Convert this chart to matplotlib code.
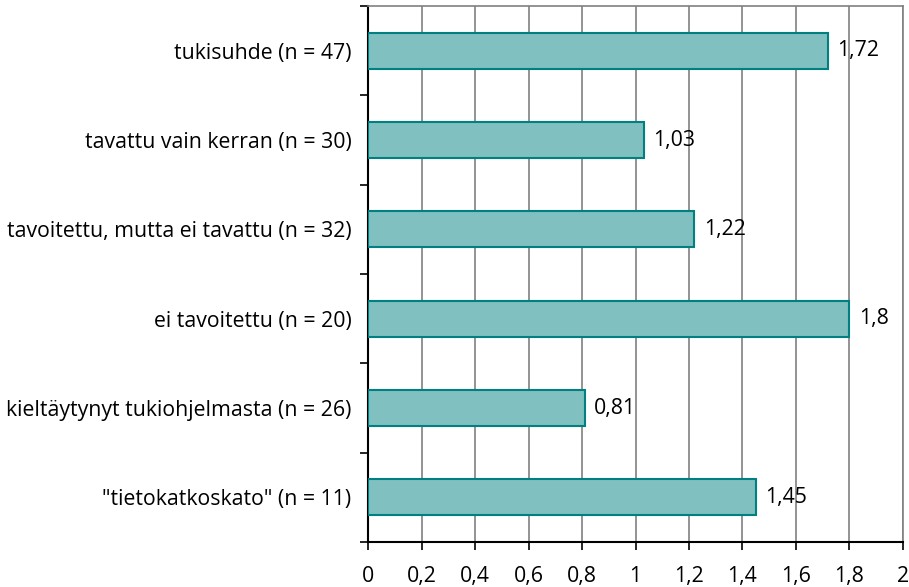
import matplotlib
matplotlib.use("Agg")
import matplotlib.pyplot as plt
from matplotlib.ticker import FixedLocator

plt.rcParams['font.family'] = ['Open Sans', 'DejaVu Sans']

categories = [
    "tukisuhde (n = 47)",
    "tavattu vain kerran (n = 30)",
    "tavoitettu, mutta ei tavattu (n = 32)",
    "ei tavoitettu (n = 20)",
    "kieltäytynyt tukiohjelmasta (n = 26)",
    "\"tietokatkoskato\" (n = 11)",
]
values = [1.72, 1.03, 1.22, 1.80, 0.81, 1.45]
value_labels = ["1,72", "1,03", "1,22", "1,8", "0,81", "1,45"]
x_ticks = [0, 0.2, 0.4, 0.6, 0.8, 1.0, 1.2, 1.4, 1.6, 1.8, 2.0]
x_tick_labels = ["0", "0,2", "0,4", "0,6", "0,8", "1", "1,2", "1,4", "1,6", "1,8", "2"]

FS = 15.3

fig = plt.figure(figsize=(9.09, 5.87), dpi=100)
ax = fig.add_axes([368 / 909, 1 - 542 / 587, 535 / 909, 536 / 587])

pos = list(range(len(categories)))
ax.barh(pos, values, height=0.4, color="#80c0c0", edgecolor="#008080", linewidth=1.5, zorder=3)

for p, v, lab in zip(pos, values, value_labels):
    ax.text(v + 0.035, p, lab, va="center", ha="left", fontsize=FS, color="black", zorder=4)

ax.set_xlim(0, 2)
ax.set_ylim(len(categories) - 0.5, -0.5)
ax.set_xticks(x_ticks)
ax.set_xticklabels(x_tick_labels, fontsize=FS)
ax.xaxis.grid(True, color="#808080", linewidth=1.2, zorder=0)

# category names sit at band centres; tick marks sit on band boundaries
ax.set_yticks(pos)
ax.set_yticklabels(categories, fontsize=FS)
ax.tick_params(axis="y", which="major", length=0, pad=12)
ax.yaxis.set_minor_locator(FixedLocator([p - 0.5 for p in pos] + [len(categories) - 0.5]))
ax.tick_params(axis="y", which="minor", length=6, width=1.2, color="black")
ax.tick_params(axis="x", which="major", length=6, width=1.2, color="black", pad=11)

for s in ["left", "bottom"]:
    ax.spines[s].set_color("black")
    ax.spines[s].set_linewidth(1.5)
for s in ["top", "right"]:
    ax.spines[s].set_color("#808080")
    ax.spines[s].set_linewidth(1.2)

fig.savefig("out.png", dpi=100)
